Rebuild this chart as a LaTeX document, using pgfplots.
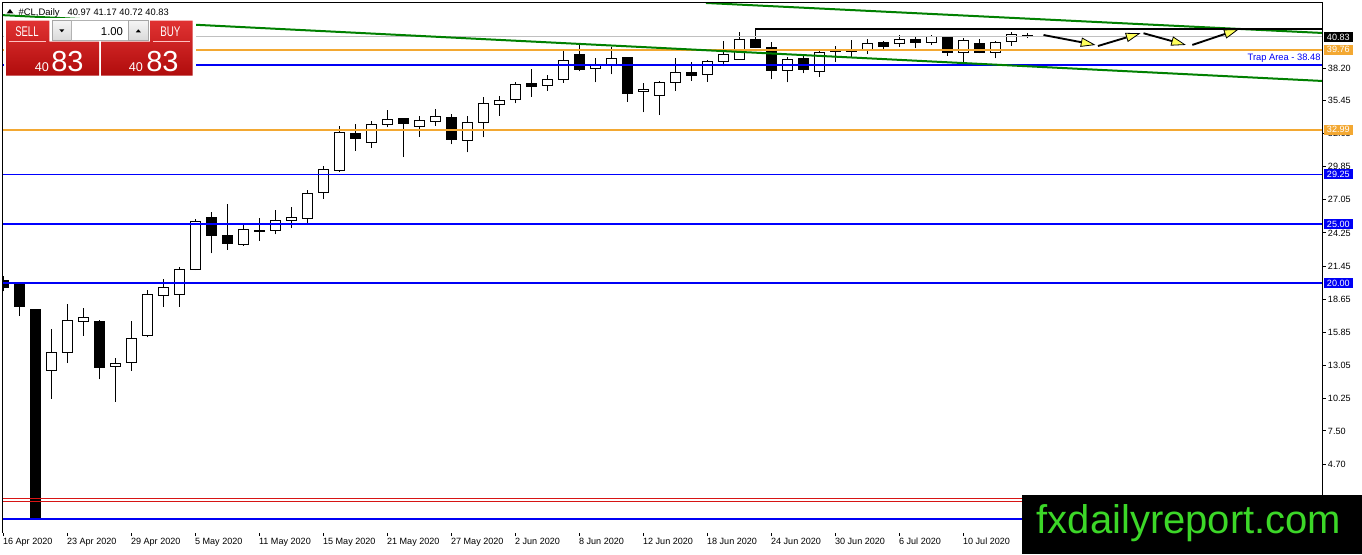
\documentclass[border=0pt]{standalone}
\usepackage{pgfplots}
\pgfplotsset{compat=1.18}
\usepackage{pgfplotstable}
\usepackage{graphicx}
\usepackage{fontspec}
\setmainfont{Liberation Sans}
\usetikzlibrary{arrows.meta}
\definecolor{mtblue}{RGB}{0,0,245}
\definecolor{mtnavy}{RGB}{0,0,255}
\definecolor{mtorange}{RGB}{243,168,50}
\definecolor{mtgreen}{RGB}{0,128,0}
\definecolor{mtred}{RGB}{215,20,20}
\definecolor{mtgray}{RGB}{192,192,192}
\definecolor{wmgreen}{RGB}{60,215,40}
\definecolor{btnTop}{RGB}{224,50,50}
\definecolor{btnBot}{RGB}{176,12,12}
\definecolor{arrowyellow}{RGB}{255,255,90}

\newcommand\cwick[2]{\draw[draw=black, line width=0.75pt] #1 -- #2;}
\newcommand\cbody[3]{\path #2 coordinate (cbtop);\filldraw[fill=#3, draw=black, line width=0.75pt] #1 ++(-3.75pt,0pt) rectangle ([xshift=3.75pt]cbtop);}
\pgfplotsset{
  cwickstyle/.style={error bars/draw error bar/.code 2 args={\cwick{##1}{##2}}},
  cbull/.style={error bars/draw error bar/.code 2 args={\cbody{##1}{##2}{white}}},
  cbear/.style={error bars/draw error bar/.code 2 args={\cbody{##1}{##2}{black}}},
}

\pgfplotstableread{
i O H L C
0 20.20 20.60 19.30 19.60
1 20.00 20.10 17.20 18.00
2 17.73 17.85 0.01 0.10
3 12.57 16.12 10.20 14.17
4 14.17 18.23 13.24 16.88
5 16.77 17.87 15.53 17.11
6 16.77 16.85 11.86 12.84
7 12.96 13.64 9.97 13.22
8 13.30 16.80 12.59 15.33
9 15.55 19.42 15.41 19.05
10 18.97 20.32 18.01 19.65
11 19.05 21.39 18.01 21.17
12 21.17 25.40 21.10 25.20
13 25.51 26.02 22.52 24.01
14 24.05 26.69 22.83 23.34
15 23.25 24.92 23.17 24.55
16 24.47 25.51 23.59 24.35
17 24.47 26.19 24.13 25.32
18 25.32 26.47 24.69 25.51
19 25.48 27.88 25.11 27.60
20 27.68 29.91 27.14 29.63
21 29.51 33.29 29.43 32.76
22 32.62 33.44 31.20 32.22
23 31.91 33.72 31.46 33.44
24 33.44 34.65 33.18 33.86
25 33.89 33.95 30.65 33.49
26 33.23 34.14 32.39 33.72
27 33.69 34.71 33.32 34.11
28 34.03 34.31 31.74 32.17
29 32.08 34.11 31.07 33.61
30 33.61 35.75 32.34 35.21
31 35.10 35.83 34.16 35.47
32 35.55 37.04 35.21 36.82
33 36.85 38.09 35.77 36.65
34 36.76 37.61 36.28 37.24
35 37.24 39.64 36.96 38.85
36 39.38 40.34 37.92 38.09
37 38.17 39.02 36.99 38.37
38 38.51 39.95 37.67 39.02
39 39.05 39.10 35.35 36.06
40 36.23 36.91 34.45 36.42
41 35.86 37.13 34.22 36.99
42 36.99 39.02 36.28 37.84
43 37.78 38.68 37.10 37.58
44 37.67 38.88 37.04 38.77
45 38.77 40.48 38.34 39.38
46 38.94 41.27 38.88 40.57
47 40.57 41.56 39.87 39.95
48 39.95 40.42 37.24 38.00
49 38.00 39.16 36.99 38.94
50 39.02 39.22 37.75 38.09
51 37.92 39.72 37.46 39.53
52 39.58 40.06 38.73 39.64
53 39.58 40.57 39.16 39.66
54 39.78 40.63 39.38 40.23
55 40.34 40.48 39.78 40.00
56 40.29 40.99 40.00 40.57
57 40.65 40.93 39.87 40.34
58 40.34 40.99 40.15 40.85
59 40.85 40.93 39.22 39.49
60 39.49 40.71 38.65 40.51
61 40.29 40.63 39.44 39.49
62 39.53 40.51 39.02 40.37
63 40.48 41.22 40.09 41.05
64 40.97 41.17 40.72 40.83
}\ohlc

\newcommand{\tfont}{\fontsize{6.8pt}{8pt}\selectfont}

\begin{document}
\begin{tikzpicture}
\useasboundingbox (0,0) rectangle (1021.5pt,-415.5pt);
\begin{axis}[
  at={(1.875pt,-1.875pt)}, anchor=north west,
  scale only axis, width=990.15pt, height=397.875pt,
  xmin=-0.06, xmax=82.45, ymin=-1.14, ymax=43.74,
  axis x line=bottom, axis y line=right,
  axis line style={draw=none},
  clip mode=individual,
  tick align=outside, major tick length=2.25pt,
  tick style={black, line width=0.6pt},
  xtick={0,4,...,60},
  xticklabels={16 Apr 2020,23 Apr 2020,29 Apr 2020,5 May 2020,11 May 2020,15 May 2020,21 May 2020,27 May 2020,2 Jun 2020,8 Jun 2020,12 Jun 2020,18 Jun 2020,24 Jun 2020,30 Jun 2020,6 Jul 2020,10 Jul 2020},
  ytick={38.20,35.45,32.65,29.85,27.05,24.25,21.45,18.65,15.85,13.05,10.25,7.50,4.70},
  yticklabels={38.20,35.45,32.65,29.85,27.05,24.25,21.45,18.65,15.85,13.05,10.25,7.50,4.70},
  ticklabel style={font=\tfont, text=black},
  xticklabel style={anchor=north west, inner sep=0pt, xshift=-0.5pt, yshift=-1.5pt},
  yticklabel style={anchor=west, inner sep=0pt, xshift=1.5pt},
]
% wicks
\addplot[draw=none, mark=none, forget plot, cwickstyle, error bars/.cd, y dir=plus, y explicit]
  table[x=i, y=L, y error expr=\thisrow{H}-\thisrow{L}] {\ohlc};
% bullish bodies
\addplot[draw=none, mark=none, forget plot, cbull, error bars/.cd, y dir=plus, y explicit]
  table[x expr={\thisrow{C}>=\thisrow{O} ? \thisrow{i} : nan}, y=O, y error expr=\thisrow{C}-\thisrow{O}] {\ohlc};
% bearish bodies
\addplot[draw=none, mark=none, forget plot, cbear, error bars/.cd, y dir=plus, y explicit]
  table[x expr={\thisrow{C}<\thisrow{O} ? \thisrow{i} : nan}, y=C, y error expr=\thisrow{O}-\thisrow{C}] {\ohlc};

% horizontal levels
\addplot[mtgray, line width=0.75pt] coordinates {(-0.06,40.83) (82.45,40.83)};
\addplot[mtorange, line width=1.5pt] coordinates {(-0.06,39.76) (82.45,39.76)};
\addplot[mtblue, line width=1.5pt] coordinates {(-0.06,38.48) (82.45,38.48)};
\addplot[mtorange, line width=1.5pt] coordinates {(-0.06,32.99) (82.45,32.99)};
\addplot[mtnavy, line width=0.9pt] coordinates {(-0.06,29.22) (82.45,29.22)};
\addplot[mtnavy, line width=0.9pt] coordinates {(-0.06,25.00) (82.45,25.00)};
\addplot[mtblue, line width=1.5pt] coordinates {(-0.06,20.00) (82.45,20.00)};
\addplot[mtred, line width=0.8pt] coordinates {(-0.06,1.76) (82.45,1.76)};
\addplot[mtred, line width=0.8pt] coordinates {(-0.06,1.55) (82.45,1.55)};
\addplot[mtblue, line width=1.5pt] coordinates {(-0.06,0.07) (82.45,0.07)};
% trend lines
\addplot[mtgreen, line width=1.5pt] coordinates {(-0.19,42.68) (82.45,37.10)};
\addplot[mtgreen, line width=1.5pt] coordinates {(43.9,43.70) (82.45,41.16)};
\addplot[black, line width=1.5pt] coordinates {(47,41.5) (82.45,41.5)};
% projection arrows
\addplot[black, line width=1.4pt, -{Triangle[length=11pt, width=7pt, fill=arrowyellow, line width=0.6pt]}] coordinates {(65.0,40.99) (68.25,40.15)};
\addplot[black, line width=1.4pt, -{Triangle[length=11pt, width=7pt, fill=arrowyellow, line width=0.6pt]}] coordinates {(68.4,40.06) (71.06,41.14)};
\addplot[black, line width=1.4pt, -{Triangle[length=11pt, width=7pt, fill=arrowyellow, line width=0.6pt]}] coordinates {(71.25,41.14) (73.9,40.15)};
\addplot[black, line width=1.4pt, -{Triangle[length=11pt, width=7pt, fill=arrowyellow, line width=0.6pt]}] coordinates {(74.3,40.15) (77.2,41.47)};

% annotations
\node[anchor=south east, inner sep=0pt, text=mtblue, font=\fontsize{7pt}{8pt}\selectfont] at (axis cs:82.45,38.48) [xshift=-1.5pt, yshift=1.5pt] {Trap Area - 38.48};
\tikzset{pbox/.style={anchor=west, inner xsep=2.2pt, inner ysep=0pt, text height=5pt, text depth=0pt, minimum height=7.5pt, font=\tfont, text=white, xshift=0.8pt}}
\node[pbox, fill=black] at (axis cs:82.45,40.83) {40.83};
\node[pbox, fill=mtorange] at (axis cs:82.45,39.76) {39.76};
\node[pbox, fill=mtorange] at (axis cs:82.45,32.99) {32.99};
\node[pbox, fill=mtblue] at (axis cs:82.45,29.25) {29.25};
\node[pbox, fill=mtblue] at (axis cs:82.45,25.00) {25.00};
\node[pbox, fill=mtblue] at (axis cs:82.45,20.00) {20.00};
\node[pbox, fill=mtred] at (axis cs:82.45,1.64) {\phantom{1.64}};
\end{axis}

\begin{scope}[x=0.75pt, y=-0.75pt]
% frame
\draw[black, line width=0.75pt] (2.5,533) -- (2.5,2.5) -- (1322.7,2.5) -- (1322.7,533);
% header
\fill[black] (6.7,13.3) -- (13.3,13.3) -- (10,9) -- cycle;
\node[anchor=base west, inner sep=0pt, font=\fontsize{7.1pt}{8pt}\selectfont] at (18.3,15) {\#CL,Daily};
\node[anchor=base west, inner sep=0pt, font=\fontsize{7.0pt}{8pt}\selectfont] at (67.3,15) {40.97 41.17 40.72 40.83};
% trading panel
\fill[white] (4,17.5) rectangle (196,78);
\shade[top color=btnTop, bottom color=btnBot] (6,20.7) -- (49.3,20.7) -- (49.3,41.7) -- (99,41.7) -- (99,75.7) -- (6,75.7) -- cycle;
\shade[top color=btnTop, bottom color=btnBot] (150,20.7) -- (192.7,20.7) -- (192.7,75.7) -- (101,75.7) -- (101,41.7) -- (150,41.7) -- cycle;
\draw[white!75!red, line width=0.75pt] (9.3,41.7) -- (46,41.7);
\draw[white!75!red, line width=0.75pt] (153,41.7) -- (190,41.7);
\shade[top color=gray!8, bottom color=gray!30] (52.7,20.7) rectangle (71,40.7);
\draw[gray!70, line width=0.5pt] (52.7,20.7) rectangle (71,40.7);
\filldraw[fill=white, draw=gray!60, line width=0.5pt] (71,20.7) rectangle (128.3,40.7);
\shade[top color=gray!8, bottom color=gray!30] (128.3,20.7) rectangle (148.3,40.7);
\draw[gray!70, line width=0.5pt] (128.3,20.7) rectangle (148.3,40.7);
\fill[black] (59.3,29.3) -- (64.3,29.3) -- (61.8,32.3) -- cycle;
\fill[black] (135.8,32.3) -- (140.8,32.3) -- (138.3,29.3) -- cycle;
\node[anchor=base east, inner sep=0pt, font=\fontsize{8.5pt}{9pt}\selectfont] at (123.3,35) {1.00};
\node[anchor=base west, inner sep=0pt, text=white, font=\fontsize{10.5pt}{11pt}\selectfont] at (15,36) {\scalebox{0.68}[1]{SELL}};
\node[anchor=base west, inner sep=0pt, text=white, font=\fontsize{10.5pt}{11pt}\selectfont] at (160,36) {\scalebox{0.7}[1]{BUY}};
\node[anchor=base west, inner sep=0pt, text=white, font=\fontsize{9.5pt}{10pt}\selectfont] at (34.5,71.7) {40};
\node[anchor=base west, inner sep=0pt, text=white, font=\fontsize{21.75pt}{22pt}\selectfont] at (51,71.7) {83};
\node[anchor=base west, inner sep=0pt, text=white, font=\fontsize{9.5pt}{10pt}\selectfont] at (128.5,71.7) {40};
\node[anchor=base west, inner sep=0pt, text=white, font=\fontsize{21.75pt}{22pt}\selectfont] at (146,71.7) {83};
% watermark
\fill[black] (1021.7,495) rectangle (1362,554);
\node[anchor=base west, inner sep=0pt, text=wmgreen, font=\fontsize{30pt}{30pt}\selectfont] at (1036.5,533) {fxdailyreport.com};
\end{scope}
\end{tikzpicture}
\end{document}
